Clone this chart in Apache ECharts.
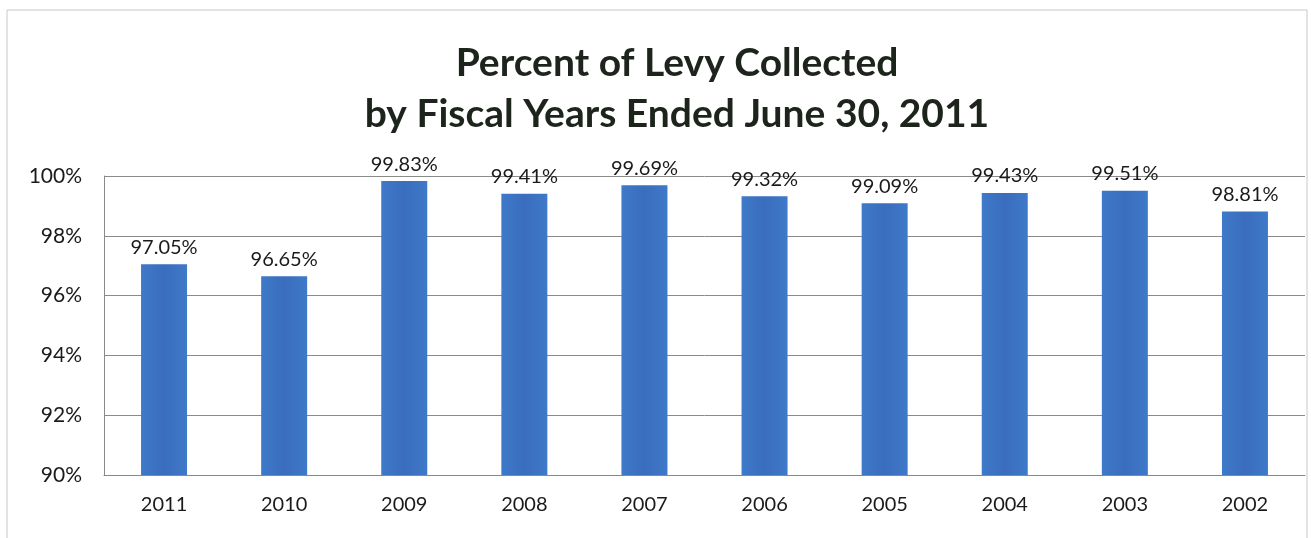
<!DOCTYPE html>
<html>
<head>
<meta charset="utf-8">
<script src="https://cdn.jsdelivr.net/npm/echarts@6/dist/echarts.min.js"></script>
<style>
  html, body { margin: 0; padding: 0; background: #fff; }
  #chart { width: 1311px; height: 538px; }
</style>
</head>
<body>
<div id="chart"></div>
<script>
// Fiscal years shown, most recent first
const years = ['2011', '2010', '2009', '2008', '2007', '2006', '2005', '2004', '2003', '2002'];
// Percent of levy collected for each fiscal year
const percentCollected = [97.05, 96.65, 99.83, 99.41, 99.69, 99.32, 99.09, 99.43, 99.51, 98.81];
// Value axis range and step (percent)
const axisMin = 90;
const axisMax = 100;
const axisStep = 2;

const chart = echarts.init(document.getElementById('chart'));

chart.setOption({
  backgroundColor: '#ffffff',
  animation: false,
  title: {
    text: 'Percent of Levy Collected\nby Fiscal Years Ended June 30, 2011',
    left: 672,
    textAlign: 'center',
    top: 33,
    textStyle: {
      fontFamily: 'Lato',
      fontWeight: 'bold',
      fontSize: 39,
      lineHeight: 51,
      color: '#1c241c'
    }
  },
  graphic: [{
    type: 'rect',
    shape: { x: 7, y: 10, width: 1300, height: 540 },
    style: { fill: 'none', stroke: '#c8c8c8', lineWidth: 1 },
    silent: true
  }],
  grid: {
    left: 104,
    right: 6,
    top: 176,
    bottom: 63,
    containLabel: false
  },
  xAxis: {
    type: 'category',
    data: years,
    axisLine: { show: true, lineStyle: { color: '#888', width: 1 } },
    axisTick: { show: false },
    axisLabel: {
      margin: 20,
      fontFamily: 'Lato',
      fontSize: 20,
      color: '#1a1a1a'
    }
  },
  yAxis: {
    type: 'value',
    min: axisMin,
    max: axisMax,
    interval: axisStep,
    axisLine: { show: true, lineStyle: { color: '#888', width: 1 } },
    axisTick: { show: false },
    splitLine: { show: true, lineStyle: { color: '#8a8a8a', width: 1 } },
    axisLabel: {
      margin: 22,
      fontFamily: 'Lato',
      fontSize: 21,
      color: '#1a1a1a',
      formatter: v => v + '%'
    }
  },
  series: [{
    type: 'bar',
    data: percentCollected,
    barWidth: 46,
    itemStyle: {
      color: new echarts.graphic.LinearGradient(0, 0, 1, 0, [
        { offset: 0, color: '#3f79c9' },
        { offset: 0.5, color: '#3a6dbd' },
        { offset: 1, color: '#3f79c9' }
      ])
    },
    label: {
      show: true,
      position: 'top',
      distance: 7,
      fontFamily: 'Lato',
      fontSize: 20,
      color: '#1a1a1a',
      formatter: p => p.value.toFixed(2) + '%'
    }
  }]
});
</script>
</body>
</html>
